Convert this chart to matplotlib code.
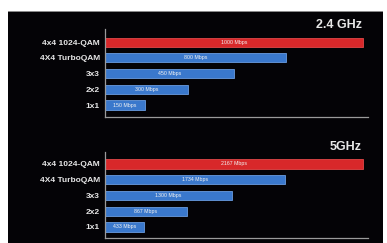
import matplotlib
matplotlib.use("Agg")
import matplotlib.pyplot as plt
from matplotlib.patches import Rectangle

plt.rcParams["font.family"] = ["Liberation Sans", "DejaVu Sans"]

categories = ["4x4 1024-QAM", "4X4 TurboQAM", "3x3", "2x2", "1x1"]
# bar lengths as drawn (relative, % of longest bar) — the source chart is not to scale
len_24 = [100, 70.2, 50.0, 32.2, 15.5]
len_5 = [100, 69.8, 49.2, 31.8, 15.1]
labels_24 = ["1000 Mbps", "800 Mbps", "450 Mbps", "300 Mbps", "150 Mbps"]
labels_5 = ["2167 Mbps", "1734 Mbps", "1300 Mbps", "867 Mbps", "433 Mbps"]
titles = ["2.4 GHz", "5GHz"]

W, H = 387, 243
fig = plt.figure(figsize=(W / 100, H / 100), dpi=100)
fig.patch.set_facecolor("white")

# black panel
fig.patches.append(Rectangle((8 / W, 0), (383 - 8) / W, (H - 11) / H,
                             transform=fig.transFigure, facecolor="#040306",
                             edgecolor="none", zorder=-2))
fig.patches.append(Rectangle((8 / W, (H - 12) / H), (383 - 8) / W, 1.2 / H,
                             transform=fig.transFigure, facecolor="#8a8a8a",
                             edgecolor="none", zorder=-1))

colors = ["#d8282a", "#3a78cc", "#3a78cc", "#3a78cc", "#3a78cc"]
edges = ["#e04848", "#6a9ce0", "#6a9ce0", "#6a9ce0", "#6a9ce0"]

def panel(top_px, bot_px, row0_off, rowlast_off, lengths, labels, title, title_y):
    ax = fig.add_axes([105 / W, (H - bot_px) / H, 263 / W, (bot_px - top_px) / H])
    ax.set_zorder(2)
    ax.set_facecolor("none")
    ypos = list(range(len(categories)))
    ax.barh(ypos, lengths, height=0.58, color=colors, edgecolor=edges, linewidth=0.6)
    for y, l, lab in zip(ypos, lengths, labels):
        ax.text(l / 2, y, lab, color="#f2f2f2", fontsize=3.8, ha="center", va="center")
    ax.set_ylim(len(categories) - 1 + rowlast_off, -row0_off)
    ax.set_xlim(0, 263 / 258 * 100)
    ax.set_yticks(ypos)
    ax.set_yticklabels(categories, fontsize=6, color="#e6e6e6", fontweight="bold")
    ax.set_xticks([])
    ax.tick_params(axis="y", length=0, pad=3.6)
    for s in ["top", "right"]:
        ax.spines[s].set_visible(False)
    for s in ["left", "bottom"]:
        ax.spines[s].set_color("#9a9a9a")
        ax.spines[s].set_linewidth(0.9)
    fig.text(362 / W, (H - title_y) / H, title, color="#e8e8e8", fontsize=9,
             fontweight="bold", ha="right", va="center", zorder=3)

panel(29, 117, 0.83, 0.76, len_24, labels_24, titles[0], 25)
panel(152, 238, 0.76, 0.70, len_5, labels_5, titles[1], 147)

fig.savefig("out.png", dpi=100, facecolor=fig.get_facecolor())
